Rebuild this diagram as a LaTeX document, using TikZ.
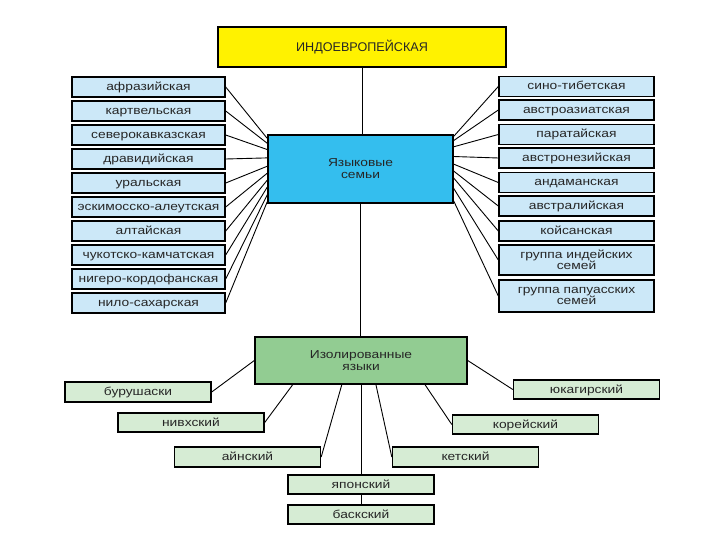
\documentclass[tikz,border=0pt]{standalone}
\usepackage{fontspec}
\setmainfont[FakeStretch=1.2]{Liberation Sans}
\newfontfamily\titlefont{Liberation Sans}
\usetikzlibrary{calc}
\definecolor{ieyellow}{RGB}{255,242,0}
\definecolor{famblue}{RGB}{52,190,238}
\definecolor{lblue}{RGB}{204,232,248}
\definecolor{isogreen}{RGB}{146,204,146}
\definecolor{lgreen}{RGB}{214,236,212}
\begin{document}
\begin{tikzpicture}[x=1pt,y=-1pt,
  box/.style={draw=black, line width=1.4pt, inner sep=0pt, minimum height=20pt,
    font=\fontsize{11.5}{11}\selectfont, align=center, text=black!85,
    text height=8.5pt, text depth=1.5pt},
  twoline/.style={text height=, text depth=},
  lbox/.style={box, fill=lblue, minimum width=153pt},
  rbox/.style={box, fill=lblue, minimum width=155pt},
  gbox/.style={box, fill=lgreen, minimum width=146pt},
  conn/.style={draw=black, line width=0.9pt}]
\useasboundingbox (0,0) rectangle (720,540);

% main boxes
\node[box, fill=ieyellow, minimum width=288pt, minimum height=40pt,
  font=\titlefont\fontsize{12.6}{14}\selectfont, text height=9pt, text depth=0pt] (ie) at (362,47) {ИНДОЕВРОПЕЙСКАЯ};
\node[box, twoline, fill=famblue, minimum width=185pt, minimum height=68pt,
  font=\fontsize{11.5}{12}\selectfont] (fam) at (360.5,169) {Языковые\\семьи};
\node[box, twoline, fill=isogreen, minimum width=212pt, minimum height=47pt,
  font=\fontsize{11.5}{12}\selectfont] (iso) at (361,360.5) {Изолированные\\языки};

\draw[conn] (ie.south) -- (ie.south |- fam.north);
\draw[conn] (fam.south) -- (fam.south |- iso.north);

% left families
\foreach \t [count=\i from 0] in {афразийская, картвельская, северокавказская, дравидийская, уральская, эскимосско-алеутская, алтайская, чукотско-камчатская, нигеро-кордофанская, нило-сахарская}
  \node[lbox] (l\i) at (148.5,{87+24*\i}) {\t};
\foreach \i/\f in {0/0.06, 1/0.13, 2/0.22, 3/0.34, 4/0.46, 5/0.56, 6/0.66, 7/0.76, 8/0.87, 9/0.97}
  \draw[conn] (l\i.east) -- ($(fam.north west)!\f!(fam.south west)$);

% right families
\node[rbox] (r0) at (576.5,86.5) {сино-тибетская};
\node[rbox] (r1) at (576.5,110) {австроазиатская};
\node[rbox] (r2) at (576.5,134.5) {паратайская};
\node[rbox] (r3) at (576.5,158) {австронезийская};
\node[rbox] (r4) at (576.5,182.5) {андаманская};
\node[rbox] (r5) at (576.5,206) {австралийская};
\node[rbox] (r6) at (576.5,231) {койсанская};
\node[rbox, twoline, minimum height=30pt] (r7) at (576.5,260) {группа индейских\\семей};
\node[rbox, twoline, minimum height=32pt] (r8) at (576.5,296) {группа папуасских\\семей};
\foreach \i/\f in {0/0.03, 1/0.09, 2/0.18, 3/0.32, 4/0.43, 5/0.53, 6/0.63, 7/0.78, 8/0.96}
  \draw[conn] (r\i.west) -- ($(fam.north east)!\f!(fam.south east)$);

% isolated languages
\node[gbox] (bur) at (138,392) {бурушаски};
\node[gbox, minimum height=19pt] (niv) at (191,422.5) {нивхский};
\node[gbox] (ain) at (247.5,457) {айнский};
\node[gbox] (ket) at (465.5,457) {кетский};
\node[gbox, minimum height=19pt] (kor) at (525.5,424.5) {корейский};
\node[gbox, minimum height=19pt] (yuk) at (586.5,389.5) {юкагирский};
\node[gbox, minimum height=19pt] (jap) at (361,484.5) {японский};
\node[gbox, minimum height=19pt] (bas) at (361,514.5) {баскский};

\draw[conn] (iso.west) -- (bur.east);
\draw[conn] ($(iso.south west)!0.18!(iso.south east)$) -- (niv.east);
\draw[conn] ($(iso.south west)!0.41!(iso.south east)$) -- (ain.east);
\draw[conn] ($(iso.south west)!0.57!(iso.south east)$) -- (ket.west);
\draw[conn] ($(iso.south west)!0.80!(iso.south east)$) -- (kor.west);
\draw[conn] (iso.east) -- (yuk.west);
\draw[conn] (iso.south) -- (jap.north);
\draw[conn] (jap.south) -- (bas.north);
\end{tikzpicture}
\end{document}
